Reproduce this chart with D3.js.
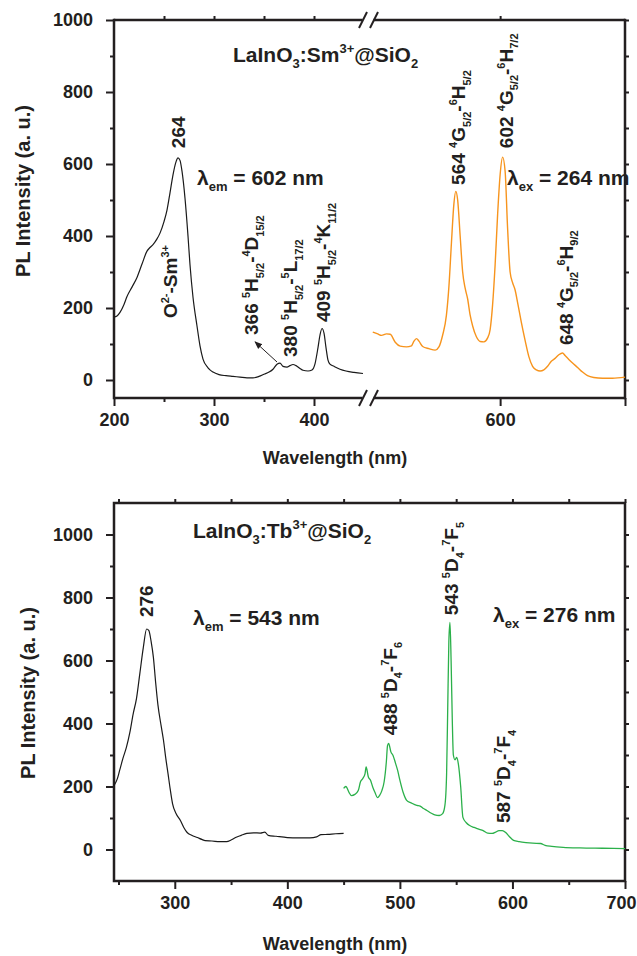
<!DOCTYPE html>
<html lang='en'>
<head>
  <meta charset='UTF-8'>
  <title>PL spectra</title>
  <style>
    body { margin: 0; background: #fff; }
    svg { display: block; }
    text, tspan { white-space: pre; }
  </style>
</head>
<body>
<div id='chart'></div>
<script src='https://d3js.org/d3.v7.min.js'></script>
<script>
  // ---- data: Sm3+ excitation (em 602 nm) ----
  var smExcWl = [200, 203, 206, 210, 213, 218, 223, 228, 233, 236, 239, 243, 246, 250, 253, 256, 259, 262, 264, 266, 268, 271, 274, 276, 279, 283, 286, 289, 294, 299, 305, 312, 319, 326, 333, 339, 345, 350, 355, 359, 363, 366, 369, 373, 376, 379, 382, 386, 389, 394, 398, 401, 404, 406, 408, 410, 412, 414, 416, 420, 426, 432, 440, 449]
  var smExcI = [175, 178, 188, 210, 232, 258, 285, 322, 358, 368, 376, 392, 408, 440, 472, 520, 570, 606, 617, 610, 580, 505, 400, 320, 230, 150, 95, 58, 34, 22, 15, 12, 10, 8, 6, 6, 10, 16, 22, 30, 44, 47, 38, 36, 40, 43, 40, 32, 27, 25, 28, 45, 90, 125, 143, 130, 90, 55, 44, 38, 30, 25, 21, 18]
  // ---- Sm3+ emission (ex 264 nm) ----
  var smEmWl = [498, 502, 505, 509, 512, 516, 520, 525, 529, 531, 533, 535, 538, 543, 548, 551, 554, 557, 559, 561, 563, 564.5, 566, 568, 570, 572, 574, 576, 578, 581, 584, 587, 590, 592, 594, 596, 598, 600, 602, 604, 606, 608, 610, 612, 614, 617, 620, 623, 626, 629, 632, 635, 638, 641, 644, 647, 650, 652, 655, 658, 662, 666, 670, 675, 682, 690, 700]
  var smEmI = [133, 128, 124, 128, 127, 105, 94, 92, 95, 108, 115, 108, 93, 87, 83, 92, 125, 180, 260, 380, 490, 524, 500, 400, 300, 255, 225, 180, 150, 120, 107, 106, 117, 140, 210, 320, 460, 570, 619, 580, 420, 300, 270, 250, 215, 160, 110, 65, 38, 28, 25, 28, 38, 52, 60, 70, 75, 68, 57, 47, 35, 22, 12, 7, 5, 5, 8]
  // ---- Tb3+ excitation (em 543 nm) ----
  var tbExcWl = [246, 249, 251, 254, 257, 260, 263, 266, 269, 272, 275, 277, 279, 281, 283, 285, 288, 290, 292, 294, 296, 298, 301, 305, 308, 311, 315, 320, 324, 327, 333, 340, 346, 350, 354, 359, 364, 370, 376, 380, 383, 390, 400, 410, 420, 426, 430, 436, 443, 450]
  var tbExcI = [203, 225, 251, 290, 324, 370, 430, 480, 560, 640, 700, 695, 660, 610, 530, 460, 390, 346, 290, 241, 190, 146, 115, 92, 70, 54, 45, 38, 32, 28, 27, 25, 25, 30, 38, 45, 51, 53, 52, 55, 45, 42, 38, 37, 37, 40, 47, 48, 50, 51]
  // ---- Tb3+ emission (ex 276 nm) ----
  var tbEmWl = [450, 452, 455, 457, 460, 463, 465, 467, 469, 470, 472, 474, 476, 478, 480, 482, 484, 486, 488, 489, 490, 492, 494, 496, 498, 500, 503, 506, 510, 515, 518, 521, 524, 528, 531, 535, 538, 540, 541.5, 542.5, 543.5, 544.5, 545.5, 546.5, 547.5, 549, 550.5, 552, 554, 556, 559, 562, 566, 570, 574, 578, 582, 585, 588, 591, 594, 597, 601, 606, 612, 618, 625, 629, 635, 645, 660, 680, 700]
  var tbEmI = [194, 200, 180, 171, 175, 187, 215, 225, 240, 262, 230, 219, 197, 180, 165, 172, 187, 215, 280, 330, 337, 310, 298, 275, 251, 220, 180, 156, 148, 140, 138, 130, 124, 115, 110, 108, 114, 140, 240, 450, 660, 721, 600, 420, 300, 285, 292, 270, 200, 102, 85, 76, 70, 65, 60, 52, 51, 55, 60, 60, 54, 42, 29, 25, 22, 20, 19, 13, 10, 7, 5, 4, 3]

  // ---- tick values ----
  var yMajor = [0, 200, 400, 600, 800, 1000]
  var yMinor = [100, 300, 500, 700, 900]
  var yRight = [0, 100, 200, 300, 400, 500, 600, 700, 800, 900, 1000]
  var xTopLMajor = [200, 300, 400]
  var xTopLMinor = [250, 350]
  var xTopRMajor = [600]
  var xTopREnd = [700]
  var xTopUpper = [250, 300, 350, 400]
  var xBotMajor = [300, 400, 500, 600, 700]
  var xBotMinor = [250, 350, 450, 550, 650]

  var ink = '#231f20'
  var font = "'Liberation Sans', Arial, Helvetica, sans-serif"
  var fmt = d3.format('d')

  var svg = d3.select('#chart').append('svg')
    .attr('width', 637)
    .attr('height', 956)

  // scales (top panel has a broken x axis)
  var yA = d3.scaleLinear().domain([-50, 1000]).range([398, 20])
  var xA1 = d3.scaleLinear().domain([200, 455]).range([114, 369])
  var xA2 = d3.scaleLinear().domain([495, 700]).range([369, 625])
  var yB = d3.scaleLinear().domain([-100, 1100]).range([881, 503])
  var xB = d3.scaleLinear().domain([246, 700]).range([114, 625])

  function styleAxis (g) {
    g.select('.domain').remove()
    g.selectAll('line').attr('stroke', ink).attr('stroke-width', 2)
    g.selectAll('text')
      .attr('fill', ink)
      .style('font-size', '18px')
      .style('font-family', font)
      .style('font-weight', 'bold')
  }
  function addAxis (axis, tx, ty) {
    return svg.append('g')
      .attr('transform', 'translate(' + tx + ',' + ty + ')')
      .call(axis)
      .call(styleAxis)
  }
  function seg (x1, y1, x2, y2, w) {
    svg.append('line')
      .attr('x1', x1).attr('y1', y1).attr('x2', x2).attr('y2', y2)
      .attr('stroke', ink).attr('stroke-width', w || 2.5)
  }
  function richText (g, parts, size, small) {
    var t = g.append('text')
      .attr('fill', ink)
      .style('font-family', font)
      .style('font-weight', 'bold')
      .style('font-size', size + 'px')
    var prev = 0
    parts.forEach(function (p) {
      var shift = p[1] === 'sup' ? -0.42 * size : p[1] === 'sub' ? 0.3 * size : 0
      t.append('tspan')
        .attr('dy', shift - prev)
        .style('font-size', (p[1] ? small : size) + 'px')
        .text(p[0])
      prev = shift
    })
    return t
  }
  function rotLabel (x, y, parts) {
    var g = svg.append('g').attr('transform', 'translate(' + x + ',' + y + ') rotate(-90)')
    richText(g, parts, 19, 11)
  }
  function plotLine (wl, val, xs, ys, color, w) {
    var pts = wl.map(function (d, i) { return [d, val[i]] })
    svg.append('path')
      .datum(pts)
      .attr('fill', 'none')
      .attr('stroke', color)
      .attr('stroke-width', w)
      .attr('stroke-linejoin', 'round')
      .attr('d', d3.line()
        .x(function (d) { return xs(d[0]) })
        .y(function (d) { return ys(d[1]) })
        .curve(d3.curveMonotoneX))
  }

  // ================= top panel =================
  addAxis(d3.axisLeft(yA).tickValues(yMajor).tickSize(8).tickPadding(13).tickFormat(fmt), 114, 0)
  addAxis(d3.axisLeft(yA).tickValues(yMinor).tickSize(4).tickFormat(''), 114, 0)
  addAxis(d3.axisRight(yA).tickValues(yRight).tickSize(4).tickFormat(''), 625, 0)
  addAxis(d3.axisBottom(xA1).tickValues(xTopLMajor).tickSize(8).tickPadding(7).tickFormat(fmt), 0, 398)
  addAxis(d3.axisBottom(xA1).tickValues(xTopLMinor).tickSize(4).tickFormat(''), 0, 398)
  addAxis(d3.axisBottom(xA2).tickValues(xTopRMajor).tickSize(8).tickPadding(7).tickFormat(fmt), 0, 398)
  addAxis(d3.axisBottom(xA2).tickValues(xTopREnd).tickSize(8).tickFormat(''), 0, 398)
  addAxis(d3.axisTop(xA1).tickValues(xTopUpper).tickSize(4).tickFormat(''), 0, 20)
  addAxis(d3.axisTop(xA2).tickValues(xTopRMajor).tickSize(4).tickFormat(''), 0, 20)

  // frame with axis break
  var brk = xA1.range()[1]
  ;[yA.range()[1], yA.range()[0]].forEach(function (yy) {
    seg(114, yy, brk - 6.5, yy)
    seg(brk + 4.5, yy, 625, yy)
    seg(brk - 10, yy + 8, brk - 2, yy - 8, 2)
    seg(brk + 1, yy + 8, brk + 9, yy - 8, 2)
  })
  seg(114, 20 - 1.25, 114, 398 + 1.25)
  seg(625, 20 - 1.25, 625, 398 + 1.25)

  plotLine(smExcWl, smExcI, xA1, yA, '#1a1a1a', 1.2)
  plotLine(smEmWl, smEmI, xA2, yA, '#f7941d', 1.4)

  // arrow to the 366 nm band
  svg.append('defs').append('marker')
    .attr('id', 'arr')
    .attr('viewBox', '0 0 10 10')
    .attr('refX', 9).attr('refY', 5)
    .attr('markerWidth', 8).attr('markerHeight', 8)
    .attr('orient', 'auto')
    .append('path').attr('d', 'M0,1L10,5L0,9z').attr('fill', ink)
  svg.append('line')
    .attr('x1', xA1(363)).attr('y1', yA(50))
    .attr('x2', xA1(341)).attr('y2', yA(106))
    .attr('stroke', ink).attr('stroke-width', 1)
    .attr('marker-end', 'url(#arr)')

  // peak labels, anchored in data units (bottom of rotated text)
  var smLabelsL = [
    { wl: 271, v: 644, parts: [['264']] },
    { wl: 263, v: 172, parts: [['O'], ['2-', 'sup'], ['-Sm'], ['3+', 'sup']] },
    { wl: 344, v: 125, parts: [['366 '], ['5', 'sup'], ['H'], ['5/2', 'sub'], ['-'], ['4', 'sup'], ['D'], ['15/2', 'sub']] },
    { wl: 383, v: 64, parts: [['380 '], ['5', 'sup'], ['H'], ['5/2', 'sub'], ['-'], ['5', 'sup'], ['L'], ['17/2', 'sub']] },
    { wl: 416, v: 161, parts: [['409 '], ['5', 'sup'], ['H'], ['5/2', 'sub'], ['-'], ['4', 'sup'], ['K'], ['11/2', 'sub']] }
  ]
  var smLabelsR = [
    { wl: 572, v: 542, parts: [['564 '], ['4', 'sup'], ['G'], ['5/2', 'sub'], ['-'], ['6', 'sup'], ['H'], ['5/2', 'sub']] },
    { wl: 610, v: 644, parts: [['602 '], ['4', 'sup'], ['G'], ['5/2', 'sub'], ['-'], ['6', 'sup'], ['H'], ['7/2', 'sub']] },
    { wl: 658, v: 97, parts: [['648 '], ['4', 'sup'], ['G'], ['5/2', 'sub'], ['-'], ['6', 'sup'], ['H'], ['9/2', 'sub']] }
  ]
  smLabelsL.forEach(function (d) { rotLabel(xA1(d.wl), yA(d.v), d.parts) })
  smLabelsR.forEach(function (d) { rotLabel(xA2(d.wl), yA(d.v), d.parts) })

  richText(svg.append('g').attr('transform', 'translate(233,62)'),
    [['LaInO'], ['3', 'sub'], [':Sm'], ['3+', 'sup'], ['@SiO'], ['2', 'sub']], 21, 13)
  richText(svg.append('g').attr('transform', 'translate(197,185)'),
    [['λ'], ['em', 'sub'], [' = 602 nm']], 21, 13)
  richText(svg.append('g').attr('transform', 'translate(507,185)'),
    [['λ'], ['ex', 'sub'], [' = 264 nm']], 21, 13)

  // ================= bottom panel =================
  addAxis(d3.axisLeft(yB).tickValues(yMajor).tickSize(8).tickPadding(13).tickFormat(fmt), 114, 0)
  addAxis(d3.axisLeft(yB).tickValues(yMinor).tickSize(4).tickFormat(''), 114, 0)
  addAxis(d3.axisRight(yB).tickValues(yRight).tickSize(4).tickFormat(''), 625, 0)
  addAxis(d3.axisBottom(xB).tickValues(xBotMajor).tickSize(8).tickPadding(7).tickFormat(fmt), 0, 881)
    .selectAll('text')
    .attr('dx', function (d) { return d === 700 ? -4 : 0 })  // keep last label inside the page
  addAxis(d3.axisBottom(xB).tickValues(xBotMinor).tickSize(4).tickFormat(''), 0, 881)
  addAxis(d3.axisTop(xB).tickValues(xBotMajor.concat(xBotMinor)).tickSize(4).tickFormat(''), 0, 503)

  svg.append('rect')
    .attr('x', 114).attr('y', 503)
    .attr('width', 625 - 114).attr('height', 881 - 503)
    .attr('fill', 'none').attr('stroke', ink).attr('stroke-width', 2.5)

  plotLine(tbExcWl, tbExcI, xB, yB, '#1a1a1a', 1.2)
  plotLine(tbEmWl, tbEmI, xB, yB, '#2bb04a', 1.3)

  var tbLabels = [
    { wl: 281, v: 738, parts: [['276']] },
    { wl: 497, v: 363, parts: [['488 '], ['5', 'sup'], ['D'], ['4', 'sub'], ['-'], ['7', 'sup'], ['F'], ['6', 'sub']] },
    { wl: 552, v: 744, parts: [['543 '], ['5', 'sup'], ['D'], ['4', 'sub'], ['-'], ['7', 'sup'], ['F'], ['5', 'sub']] },
    { wl: 598, v: 84, parts: [['587 '], ['5', 'sup'], ['D'], ['4', 'sub'], ['-'], ['7', 'sup'], ['F'], ['4', 'sub']] }
  ]
  tbLabels.forEach(function (d) { rotLabel(xB(d.wl), yB(d.v), d.parts) })

  richText(svg.append('g').attr('transform', 'translate(193,538)'),
    [['LaInO'], ['3', 'sub'], [':Tb'], ['3+', 'sup'], ['@SiO'], ['2', 'sub']], 21, 13)
  richText(svg.append('g').attr('transform', 'translate(193,625)'),
    [['λ'], ['em', 'sub'], [' = 543 nm']], 21, 13)
  richText(svg.append('g').attr('transform', 'translate(493,622)'),
    [['λ'], ['ex', 'sub'], [' = 276 nm']], 21, 13)

  // ================= axis titles =================
  ;[{ x: 30, y: 191 }, { x: 35, y: 693 }].forEach(function (p) {
    svg.append('text')
      .attr('transform', 'translate(' + p.x + ',' + p.y + ') rotate(-90)')
      .attr('text-anchor', 'middle')
      .attr('fill', ink)
      .style('font-family', font).style('font-weight', 'bold').style('font-size', '20px')
      .text('PL Intensity (a. u.)')
  })
  ;[464, 950].forEach(function (yy) {
    svg.append('text')
      .attr('x', 335).attr('y', yy)
      .attr('text-anchor', 'middle')
      .attr('fill', ink)
      .style('font-family', font).style('font-weight', 'bold').style('font-size', '18px')
      .text('Wavelength (nm)')
  })
</script>
</body>
</html>
